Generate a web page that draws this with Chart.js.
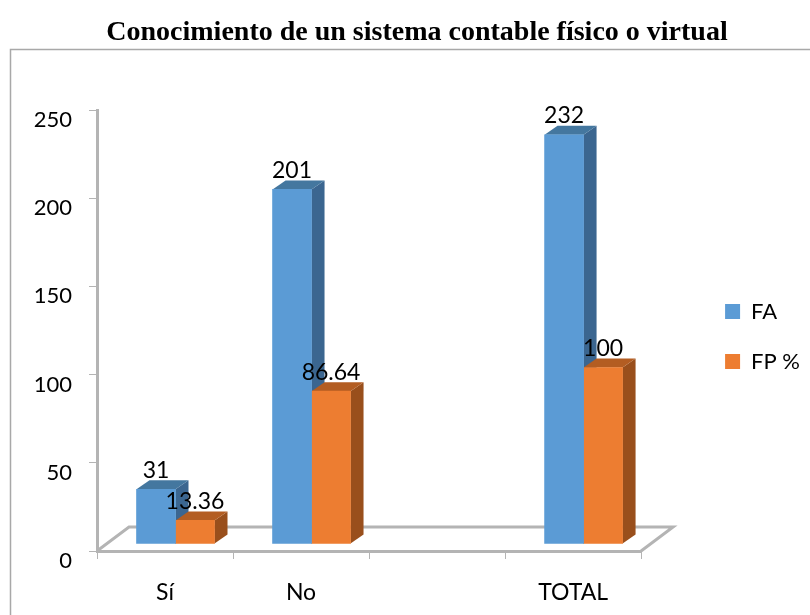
<!DOCTYPE html>
<html><head><meta charset="utf-8">
<style>html,body{margin:0;padding:0;background:#fff}#w{width:810px;height:615px;position:relative}</style>
<script src="https://cdn.jsdelivr.net/npm/chart.js@4"></script>
</head><body><div id="w"><canvas id="c" width="810" height="615"></canvas></div>
<script>
const TITLE = 'Conocimiento de un sistema contable físico o virtual';
const categories = ['Sí', 'No', '', 'TOTAL'];
const seriesFA = [31, 201, null, 232];
const seriesFP = [13.36, 86.64, null, 100];
const labelsFA = ['31', '201', '', '232'];
const labelsFP = ['13.36', '86.64', '', '100'];
const yTicks = [0, 50, 100, 150, 200, 250];

const SHIFT_X = 10.5, SHIFT_Y = -7, DX = 13, DY = -9;
const FLOOR_DX = 32, FLOOR_DY = -24;
const AXIS = '#b4b4b4';
const LEGEND_SHIFT = 6;

const sides = [
  {top:'#44779F', side:'#3B6690'},
  {top:'#B35D22', side:'#994F1C'}
];
const labelText = [labelsFA, labelsFP];

const look3d = {
  id:'look3d',
  afterLayout(chart){
    chart.legend.top += LEGEND_SHIFT;
    chart.legend.bottom += LEGEND_SHIFT;
  },
  beforeDraw(chart){
    const g = chart.ctx;
    g.save();
    g.strokeStyle = '#a8a8a8'; g.lineWidth = 1.5;
    g.beginPath(); g.moveTo(10.5,615); g.lineTo(10.5,49.5); g.lineTo(810,49.5); g.stroke();
    g.restore();
  },
  beforeDatasetsDraw(chart){
    const g = chart.ctx, a = chart.chartArea;
    g.save();
    g.strokeStyle = AXIS; g.lineWidth = 3;
    g.beginPath();
    g.moveTo(a.left, a.bottom);
    g.lineTo(a.left+FLOOR_DX, a.bottom+FLOOR_DY);
    g.lineTo(a.right+FLOOR_DX, a.bottom+FLOOR_DY);
    g.lineTo(a.right, a.bottom);
    g.stroke();
    g.restore();
    // the depth faces go down first; the library then paints the front faces under the same shift
    g.save();
    g.translate(SHIFT_X, SHIFT_Y);
    chart.data.datasets.forEach((d, k) => {
      const c = sides[k];
      chart.getDatasetMeta(k).data.forEach((b, i) => {
        if (d.data[i] == null) return;
        const p = b.getProps(['x','y','base','width'], true);
        const l = p.x - p.width/2, r = p.x + p.width/2;
        g.fillStyle = c.side;
        g.beginPath(); g.moveTo(r,p.y); g.lineTo(r+DX,p.y+DY); g.lineTo(r+DX,p.base+DY); g.lineTo(r,p.base); g.closePath(); g.fill();
        g.fillStyle = c.top;
        g.beginPath(); g.moveTo(l,p.y); g.lineTo(l+DX,p.y+DY); g.lineTo(r+DX,p.y+DY); g.lineTo(r,p.y); g.closePath(); g.fill();
      });
    });
  },
  afterDatasetsDraw(chart){
    const g = chart.ctx;
    g.restore();
    g.save();
    g.font = '23px Lato'; g.fillStyle = '#000'; g.textAlign = 'center'; g.textBaseline = 'middle';
    chart.data.datasets.forEach((d, k) => {
      chart.getDatasetMeta(k).data.forEach((b, i) => {
        if (d.data[i] == null) return;
        const p = b.getProps(['x','y'], true);
        g.fillText(labelText[k][i], p.x + SHIFT_X, p.y + SHIFT_Y - 19);
      });
    });
    g.restore();
  }
};

new Chart(document.getElementById('c'), {
  type:'bar',
  plugins:[look3d],
  data:{
    labels:categories,
    datasets:[
      {label:'FA', data:seriesFA, backgroundColor:'#5B9BD5', barThickness:39},
      {label:'FP %', data:seriesFP, backgroundColor:'#ED7D31', barThickness:39}
    ]
  },
  options:{
    responsive:false, animation:false,
    layout:{padding:{left:24,right:0,top:0,bottom:0}},
    plugins:{
      title:{display:true,text:TITLE,color:'#000',font:{family:'"Liberation Serif"',size:28,weight:'bold'},padding:{top:16,bottom:60.4}},
      legend:{position:'right',fullSize:false,labels:{boxWidth:15,boxHeight:15,padding:28,color:'#000',font:{family:'Lato',size:22}}},
      tooltip:{enabled:false}
    },
    scales:{
      x:{
        grid:{offset:true,drawOnChartArea:false,tickLength:8,color:AXIS,tickColor:AXIS},
        border:{color:AXIS,width:3},
        ticks:{color:'#000',font:{family:'Lato',size:23},padding:20,maxRotation:0,autoSkip:false},
        afterFit(s){ s.height = 64; }
      },
      y:{
        min:0,max:250,
        afterBuildTicks(s){ s.ticks = yTicks.map(v=>({value:v})); },
        grid:{drawOnChartArea:false,tickLength:8,color:AXIS,tickColor:AXIS},
        border:{color:AXIS,width:3},
        ticks:{color:'#000',font:{family:'Lato',size:22},padding:17,labelOffset:10},
        afterFit(s){ s.width = 73; }
      },
      spacer:{
        position:'right',display:true,
        grid:{display:false},border:{display:false},ticks:{display:false},
        afterFit(s){ s.width = 56; }
      }
    }
  }
});
</script></body></html>
